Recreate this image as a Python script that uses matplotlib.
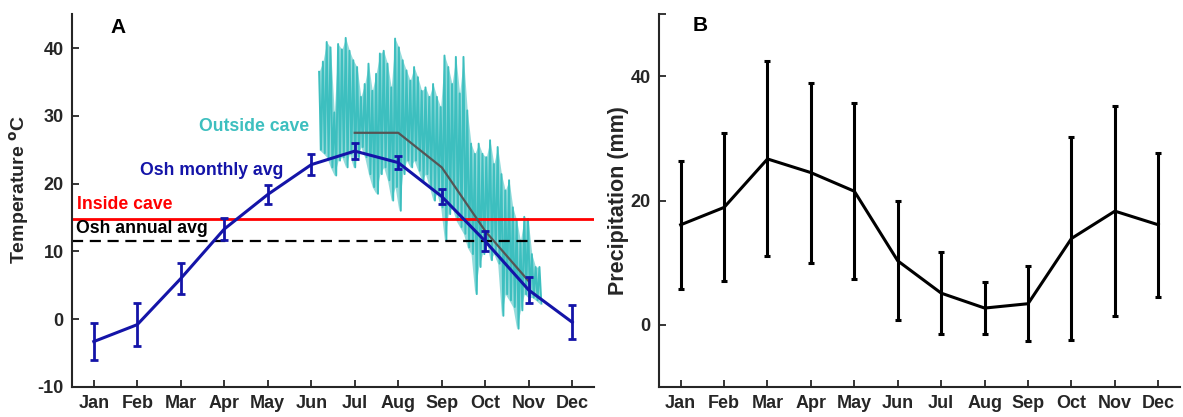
import numpy as np
import matplotlib
matplotlib.use("Agg")
import matplotlib.pyplot as plt

plt.rcParams['font.family'] = ['Liberation Sans', 'DejaVu Sans']

months = ['Jan', 'Feb', 'Mar', 'Apr', 'May', 'Jun', 'Jul', 'Aug', 'Sep', 'Oct', 'Nov', 'Dec']
month_idx = np.arange(1, 13)

# Panel A: Osh monthly average temperature (deg C) and error
osh_temp = [-3.3, -0.8, 6.0, 13.3, 18.4, 22.8, 24.8, 23.1, 18.1, 11.5, 4.3, -0.45]
osh_temp_err = [2.7, 3.2, 2.25, 1.6, 1.45, 1.6, 1.2, 1.0, 1.15, 1.45, 1.9, 2.5]

inside_cave = 14.8
osh_annual_avg = 11.6

# gray reference line (Jul..Nov)
gray_months = [7, 8, 9, 10, 11]
gray_vals = [27.5, 27.5, 22.4, 13.0, 5.6]

# Outside cave logger: successive daily highs and lows (deg C), early Jun to mid Nov
outside_start, outside_end = 6.18, 11.29
outside_high = [36.5, 38.0, 40.9, 40.1, 30.5, 40.6, 39.8, 41.5, 39.6, 38.2,
                37.2, 32.8, 34.7, 37.7, 33.7, 36.2, 39.2, 39.6, 37.7, 34.2,
                41.4, 40.1, 38.2, 36.7, 35.2, 37.2, 35.7, 33.7, 34.2, 32.8,
                34.7, 32.8, 31.3, 38.9, 37.2, 34.7, 38.7, 33.3, 38.7, 30.8,
                25.9, 24.4, 25.9, 24.4, 23.9, 26.4, 22.9, 25.4, 21.4, 19.0,
                20.5, 16.5, 14.6, 11.6, 15.1, 14.8, 9.6, 7.7, 7.7]
outside_low = [25.0, 24.5, 23.9, 22.4, 21.2, 23.4, 23.9, 22.4, 24.4, 22.4,
               23.9, 25.4, 23.9, 21.4, 19.5, 18.5, 21.4, 22.4, 20.5, 17.5,
               19.5, 16.0, 21.4, 23.4, 22.4, 23.4, 21.9, 20.5, 21.4, 19.5,
               17.5, 18.5, 16.5, 11.6, 15.5, 16.5, 14.6, 13.6, 12.6, 10.6,
               9.6, 3.7, 7.7, 9.6, 11.6, 8.7, 9.6, 8.2, 0.5, 3.7,
               2.8, 1.8, -1.4, 1.3, 3.7, 3.2, 3.2, 2.8, 2.3]

# Panel B: precipitation (mm)
precip = [16.1, 18.9, 26.7, 24.5, 21.5, 10.3, 5.1, 2.7, 3.4, 13.9, 18.3, 16.1]
precip_err = [10.3, 11.9, 15.7, 14.5, 14.2, 9.6, 6.6, 4.2, 6.0, 16.3, 16.9, 11.6]

tick_color = '#262626'
blue = '#1414a8'
cyan = '#3dbfbf'

fig = plt.figure(figsize=(11.83, 4.17), dpi=100)
axA = fig.add_axes([0.0609, 0.072, 0.4412, 0.894])
axB = fig.add_axes([0.557, 0.072, 0.4405, 0.894])

def style(ax):
    for s in ['top', 'right']:
        ax.spines[s].set_visible(False)
    for s in ['left', 'bottom']:
        ax.spines[s].set_color(tick_color)
        ax.spines[s].set_linewidth(1.5)
    ax.tick_params(direction='in', length=5, width=1.3, colors=tick_color,
                   labelsize=13, pad=6)
    ax.set_xlim(0.5, 12.5)
    ax.set_xticks(month_idx)
    ax.set_xticklabels(months, fontweight='bold')

# ---------- Panel A ----------
n = len(outside_high)
xs = np.linspace(outside_start, outside_end, 2 * n)
ys = np.empty(2 * n)
ys[0::2] = outside_high
ys[1::2] = outside_low
xh = xs[0::2]
axA.fill_between(xh, outside_low, outside_high, color=cyan, alpha=0.55,
                 lw=0, zorder=1)
axA.plot(xs, ys, color=cyan, lw=1.4, zorder=1)

axA.axhline(inside_cave, color='red', lw=2.0, zorder=2)
axA.hlines(osh_annual_avg, 0.5, 12.25, colors='black', lw=1.6,
           linestyles=(0, (5, 3)), zorder=2)
axA.plot(gray_months, gray_vals, color='#555555', lw=1.6, zorder=3)
axA.errorbar(month_idx, osh_temp, yerr=osh_temp_err, color=blue, lw=2.2,
             elinewidth=2.0, capsize=3, capthick=2.0, zorder=4)

axA.set_ylim(-10, 45)
axA.set_yticks([-10, 0, 10, 20, 30, 40])
style(axA)
axA.set_yticklabels(['-10', '0', '10', '20', '30', '40'], fontweight='bold')
axA.set_ylabel('Temperature $^{\\mathbf{o}}$C', fontsize=14, fontweight='bold',
               color=tick_color)
axA.yaxis.set_label_coords(-0.078, 0.53)

axA.text(3.42, 28.4, 'Outside cave', color=cyan, fontsize=12.7,
         fontweight='bold', ha='left', va='center')
axA.text(2.07, 21.9, 'Osh monthly avg', color=blue, fontsize=12.7,
         fontweight='bold', ha='left', va='center')
axA.text(0.62, 16.9, 'Inside cave', color='red', fontsize=12.7,
         fontweight='bold', ha='left', va='center')
axA.text(0.58, 13.4, 'Osh annual avg', color='black', fontsize=12.7,
         fontweight='bold', ha='left', va='center')
axA.text(0.088, 0.965, 'A', transform=axA.transAxes, fontsize=15,
         fontweight='bold', ha='center', va='center')

# ---------- Panel B ----------
axB.errorbar(month_idx, precip, yerr=precip_err, color='black', lw=2.2,
             elinewidth=2.2, capsize=2.5, capthick=2.2)
axB.set_ylim(-10, 50)
axB.set_yticks([0, 20, 40, 50])
style(axB)
axB.set_yticklabels(['0', '20', '40', ''], fontweight='bold')
axB.set_ylabel('Precipitation (mm)', fontsize=15.5, fontweight='bold',
               color=tick_color)
axB.yaxis.set_label_coords(-0.057, 0.50)
axB.text(0.079, 0.97, 'B', transform=axB.transAxes, fontsize=15,
         fontweight='bold', ha='center', va='center')

fig.savefig('out.png', dpi=100)
